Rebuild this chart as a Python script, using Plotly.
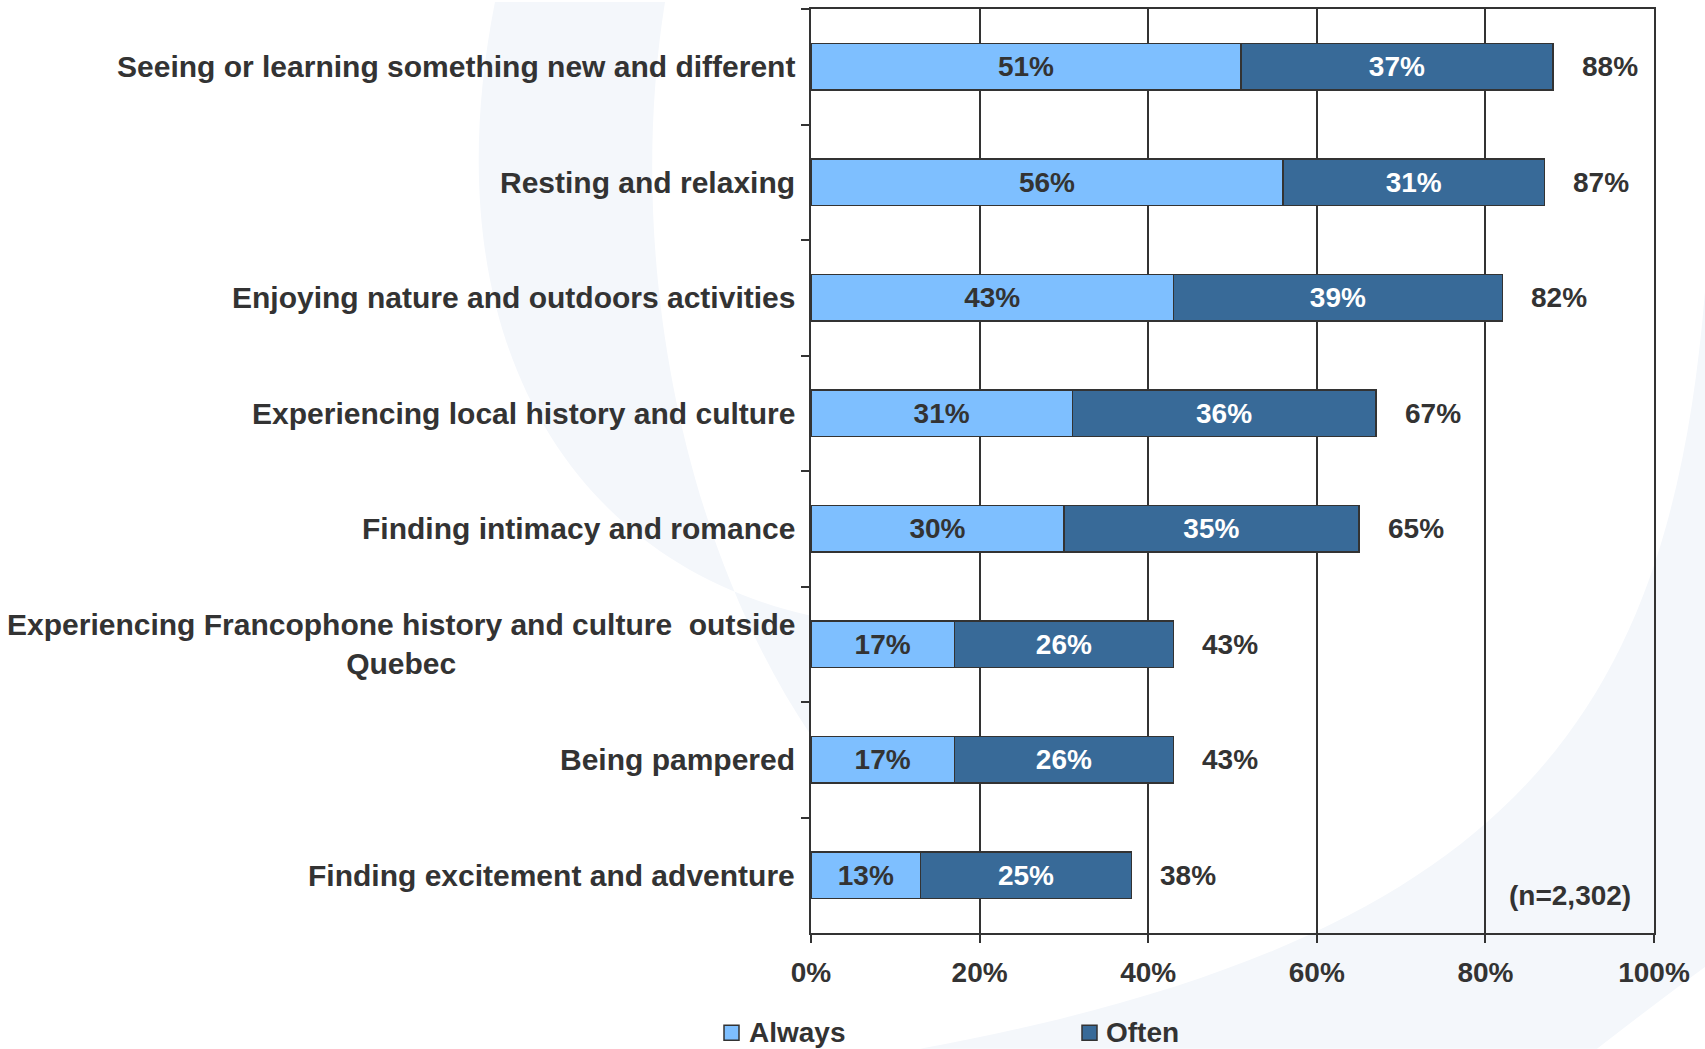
import plotly.graph_objects as go

# Survey data: share of respondents who look for each experience on a trip
categories = [
    "Seeing or learning something new and different",
    "Resting and relaxing",
    "Enjoying nature and outdoors activities",
    "Experiencing local history and culture",
    "Finding intimacy and romance",
    "Experiencing Francophone history and culture  outside<br>Quebec",
    "Being pampered",
    "Finding excitement and adventure",
]
always = [51, 56, 43, 31, 30, 17, 17, 13]
often = [37, 31, 39, 36, 35, 26, 26, 25]
totals = [88, 87, 82, 67, 65, 43, 43, 38]
x_ticks = [0, 20, 40, 60, 80, 100]
x_tick_text = ["0%", "20%", "40%", "60%", "80%", "100%"]
series_names = ["Always", "Often"]
sample_note = "(n=2,302)"

FONT = "Arial, 'Liberation Sans', Helvetica, sans-serif"
TEXT = "#333333"
LIGHT = "#7EBFFF"
DARK = "#386A98"
PALE = "#f4f7fb"

W, H = 1705, 1049
ML, MR, MT, MB = 811, 51, 7, 116
PW, PH = W - ML - MR, H - MT - MB


def px(x, y):
    """Pixel position on the page -> paper coordinates string."""
    return f"{(x - ML) / PW:.4f},{(MT + PH - y) / PH:.4f}"


def pxx(x):
    return (x - ML) / PW


def pxy(y):
    return (MT + PH - y) / PH


fig = go.Figure()

fig.add_trace(go.Bar(
    name=series_names[0], y=categories, x=always, orientation="h",
    marker=dict(color=LIGHT, line=dict(color=TEXT, width=1.5)),
    text=[f"{v}%" for v in always], textposition="inside",
    insidetextanchor="middle", textangle=0, constraintext="none",
    textfont=dict(family=FONT, size=28, color=TEXT, weight="bold"),
    hoverinfo="skip", showlegend=False,
))
fig.add_trace(go.Bar(
    name=series_names[1], y=categories, x=often, orientation="h",
    marker=dict(color=DARK, line=dict(color=TEXT, width=1.5)),
    text=[f"{v}%" for v in often], textposition="inside",
    insidetextanchor="middle", textangle=0, constraintext="none",
    textfont=dict(family=FONT, size=28, color="white", weight="bold"),
    hoverinfo="skip", showlegend=False,
))

annotations = []
# category labels (centred multi-line text, right-aligned against the axis)
for cat in categories:
    annotations.append(dict(
        x=0, y=cat, xref="x", yref="y", text=cat, showarrow=False,
        xanchor="right", yanchor="middle", align="center", xshift=-14,
        font=dict(family=FONT, size=30, color=TEXT, weight="bold"),
    ))
# total labels at the end of each stacked bar
for cat, tot in zip(categories, totals):
    annotations.append(dict(
        x=tot, y=cat, xref="x", yref="y", text=f"{tot}%", showarrow=False,
        xanchor="left", yanchor="middle", xshift=27,
        font=dict(family=FONT, size=28, color=TEXT, weight="bold"),
    ))
annotations.append(dict(
    x=0.9, y=0.041, xref="paper", yref="paper", text=sample_note,
    showarrow=False, xanchor="center", yanchor="middle",
    font=dict(family=FONT, size=28, color=TEXT, weight="bold"),
))

# faint background swooshes
shapes = [
    dict(type="path", xref="paper", yref="paper", layer="below",
         fillcolor=PALE, line=dict(width=0),
         path=(f"M{px(495, 0)} L{px(665, 0)} C{px(625, 250)} {px(680, 540)} {px(811, 735)} "
               f"L{px(811, 615)} C{px(565, 560)} {px(430, 330)} {px(495, 0)} Z")),
    dict(type="path", xref="paper", yref="paper", layer="below",
         fillcolor=PALE, line=dict(width=0),
         path=(f"M{px(1705, 290)} C{px(1670, 720)} {px(1510, 940)} {px(920, 1049)} "
               f"L{px(1597, 1049)} Q{px(1660, 1000)} {px(1705, 967)} Z")),
]

# legend: coloured squares with series names below the axis
legend_y = 1033
for name, color, sq_x, txt_x in zip(series_names, [LIGHT, DARK], [724, 1082], [747, 1104]):
    shapes.append(dict(
        type="rect", xref="paper", yref="paper",
        x0=pxx(sq_x), x1=pxx(sq_x + 15), y0=pxy(legend_y - 7.5), y1=pxy(legend_y + 7.5),
        fillcolor=color, line=dict(color=TEXT, width=1.5),
    ))
    annotations.append(dict(
        x=pxx(txt_x), y=pxy(legend_y), xref="paper", yref="paper", text=name,
        showarrow=False, xanchor="left", yanchor="middle",
        font=dict(family=FONT, size=28, color=TEXT, weight="bold"),
    ))

fig.update_layout(
    width=W, height=H,
    margin=dict(l=ML, r=MR, t=MT, b=MB, pad=0),
    paper_bgcolor="white", plot_bgcolor="rgba(0,0,0,0)",
    barmode="stack", bargap=0.6,
    font=dict(family=FONT, color=TEXT),
    annotations=annotations, shapes=shapes,
    showlegend=False,
    xaxis=dict(
        range=[0, 100], tickvals=x_ticks, ticktext=x_tick_text,
        showgrid=True, gridcolor=TEXT, gridwidth=1.5,
        showline=True, linecolor=TEXT, linewidth=2, mirror=True,
        ticks="outside", ticklen=8, tickcolor=TEXT, tickwidth=1.5,
        ticklabelstandoff=5, zeroline=False,
        tickfont=dict(family=FONT, size=28, color=TEXT, weight="bold"),
        fixedrange=True,
    ),
    yaxis=dict(
        type="category", categoryorder="array", categoryarray=categories,
        autorange="reversed", showticklabels=False, showgrid=False,
        showline=True, linecolor=TEXT, linewidth=2, mirror=True,
        ticks="outside", ticklen=8, tickcolor=TEXT, tickwidth=1.5,
        tickson="boundaries", fixedrange=True,
    ),
)

fig.write_html("out.html")
